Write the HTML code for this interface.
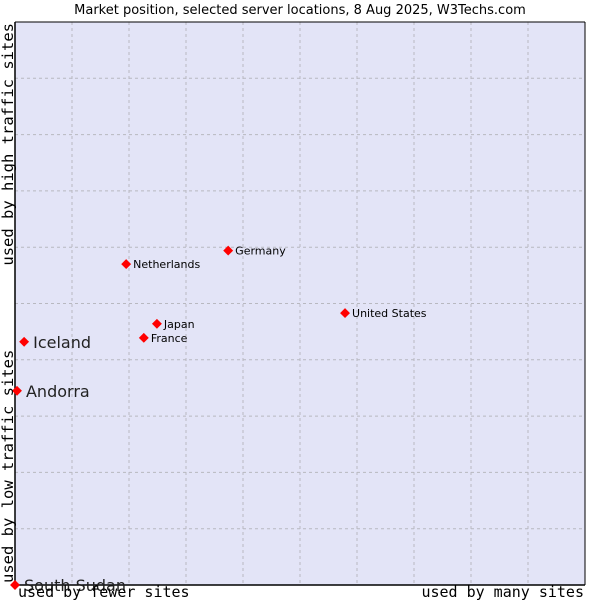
<!DOCTYPE html>
<html><head><meta charset="utf-8"><style>
body{margin:0;background:#fff;}
svg text{font-family:"DejaVu Sans","Liberation Sans",sans-serif;}
.mono{font-family:"DejaVu Sans Mono","Liberation Mono",monospace;}
</style></head><body>
<svg id="chart" width="600" height="600" xmlns="http://www.w3.org/2000/svg">
<text x="300" y="14" font-size="13" text-anchor="middle" fill="#000">Market position, selected server locations, 8 Aug 2025, W3Techs.com</text>
<rect x="15" y="22" width="570" height="563" fill="#e3e4f7" stroke="none"/>
<g id="grid"></g>
<line x1="15" y1="22" x2="15" y2="585" stroke="#000" stroke-width="1.5"/>
<line x1="15" y1="585" x2="585" y2="585" stroke="#000" stroke-width="1.5"/>
<line x1="15" y1="22" x2="585" y2="22" stroke="#000" stroke-width="1"/>
<line x1="585" y1="22" x2="585" y2="585" stroke="#000" stroke-width="1"/>
<g id="points"></g>
<text class="mono" x="18" y="597" font-size="15">used by fewer sites</text>
<text class="mono" x="584" y="597" font-size="15" text-anchor="end">used by many sites</text>
<text class="mono" transform="translate(13,583) rotate(-90)" font-size="15.5">used by low traffic sites</text>
<text class="mono" transform="translate(13,23) rotate(-90)" font-size="15.5" text-anchor="end">used by high traffic sites</text>
</svg>
<script>
const countries=["Iceland","Andorra","South Sudan","Netherlands","Germany","Japan","France","United States"];
const xValues=[1.6,0.35,0,19.5,37.4,24.9,22.6,57.9];
const yValues=[43.2,34.5,0,57.0,59.4,46.4,43.9,48.3];
const bigLabels=[true,true,true,false,false,false,false,false];
const NS="http://www.w3.org/2000/svg";
const L=15,R=585,T=22,B=585;
function xs(v){return L+(R-L)*v/100;}
function ys(v){return B-(B-T)*v/100;}
const grid=document.getElementById('grid');
for(let i=1;i<10;i++){
  const v=document.createElementNS(NS,'line');
  
  
  v.setAttribute('x1',xs(i*10));v.setAttribute('x2',xs(i*10));v.setAttribute('y1',T);v.setAttribute('y2',B);
  v.setAttribute('stroke','#b8b8c0');v.setAttribute('stroke-dasharray','3,3');
  grid.appendChild(v);
  const h=document.createElementNS(NS,'line');
  
  
  h.setAttribute('y1',ys(i*10));h.setAttribute('y2',ys(i*10));h.setAttribute('x1',L);h.setAttribute('x2',R);
  h.setAttribute('stroke','#b8b8c0');h.setAttribute('stroke-dasharray','3,3');
  grid.appendChild(h);
}
const pts=document.getElementById('points');
countries.forEach((c,i)=>{
  const x=xs(xValues[i]),y=ys(yValues[i]);
  const d=document.createElementNS(NS,'rect');
  
  
  d.setAttribute('x',x-3.5);d.setAttribute('y',y-3.5);d.setAttribute('width',7);d.setAttribute('height',7);
  d.setAttribute('fill','#f00');d.setAttribute('transform','rotate(45 '+x+' '+y+')');
  pts.appendChild(d);
  const t=document.createElementNS(NS,'text');
  
  
  const big=bigLabels[i];
  t.setAttribute('x',x+(big?9:7));t.setAttribute('y',y+(big?6:4));
  t.setAttribute('font-size',big?16:11);
  t.setAttribute('fill',big?'#222':'#000');
  t.textContent=c;
  pts.appendChild(t);
});
</script>
</body></html>
